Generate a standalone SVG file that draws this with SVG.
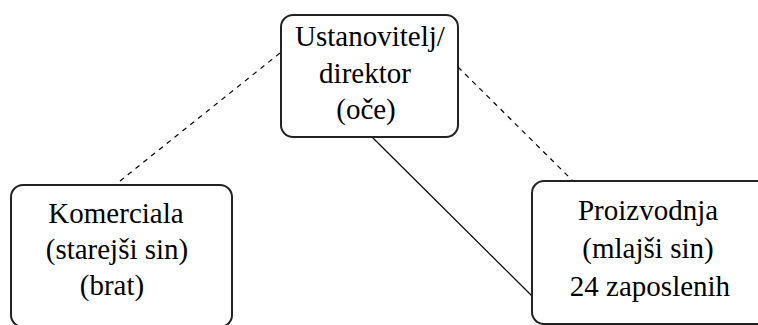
<svg xmlns="http://www.w3.org/2000/svg" width="758" height="325" viewBox="0 0 758 325">
<style>
.box{fill:#fff;stroke:#222;stroke-width:2}
.t{font-family:'Liberation Serif','Times New Roman',Times,Tinos,'Noto Serif','DejaVu Serif',FreeSerif,'Nimbus Roman','Nimbus Roman No9 L','Noto Serif CJK SC',serif;font-size:29px;fill:#000;text-anchor:middle}
.ln{stroke:#000;stroke-width:1.2;fill:none}
.dash{stroke-dasharray:5 5}
</style>
<rect width="758" height="325" fill="#fff"/>
<g id="connectors">
<line class="ln dash" x1="280" y1="53" x2="115" y2="185"/>
<line class="ln dash" x1="458" y1="67" x2="573" y2="181"/>
<line class="ln" x1="372" y1="137" x2="532" y2="296"/>
</g>
<g id="n-top">
<rect class="box" x="281" y="15" width="177" height="122" rx="12" ry="12"/>
<text class="t" x="370" y="46">Ustanovitelj/</text>
<text class="t" x="365" y="83">direktor</text>
<text class="t" x="366" y="119">(oče)</text>
</g>
<g id="n-left">
<rect class="box" x="11" y="185" width="221" height="142" rx="12" ry="12"/>
<text class="t" x="116" y="223">Komerciala</text>
<text class="t" x="117" y="259">(starejši sin)</text>
<text class="t" x="112" y="295">(brat)</text>
</g>
<g id="n-right">
<rect class="box" x="532" y="181" width="240" height="143" rx="12" ry="12"/>
<text class="t" x="648" y="220">Proizvodnja</text>
<text class="t" x="648" y="258">(mlajši sin)</text>
<text class="t" x="650" y="296">24 zaposlenih</text>
</g>
</svg>
